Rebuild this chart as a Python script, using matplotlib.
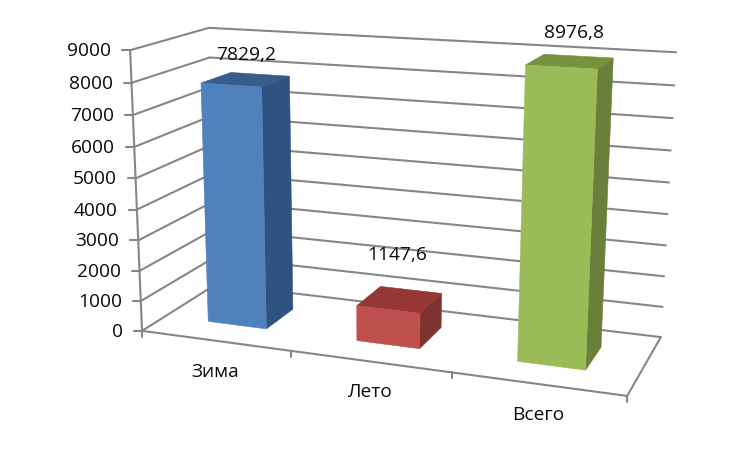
import numpy as np
import matplotlib
matplotlib.use("Agg")
import matplotlib.pyplot as plt
from matplotlib.patches import Polygon

# ---- data ----
categories = ["Зима", "Лето", "Всего"]
values = [7829.2, 1147.6, 8976.8]
value_labels = ["7829,2", "1147,6", "8976,8"]
value_ticks = [0, 1000, 2000, 3000, 4000, 5000, 6000, 7000, 8000, 9000]

# ---- styles ----
front_colors = ["#4F81BD", "#C0504D", "#9BBB59"]
top_colors = ["#385D8A", "#953735", "#76923C"]
side_colors = ["#2F5380", "#7F3331", "#6A7F3A"]
label_nudge = [(0, -25), (-3, -44), (4, -28)]
GRID = "#868686"
FONT = "Open Sans"
FS = 13.8
VMAX = value_ticks[-1]
BAR = (0.3, 0.7)   # bar extent inside a category slot (gap width 150 %)
DEPTH = (0.3, 0.7) # bar extent along the depth axis

# ---- perspective camera: category axis X, depth D, value Z -> pixels ----
cal = [((0, 0, 0), (142.3, 331)), ((0, 0, 1), (130, 50)), ((0, 1, 1), (209, 28)),
       ((0, 1, 0), (216, 284)), ((3, 1, 1), (676, 52.3)), ((3, 1, 0), (661, 337)),
       ((3, 0, 0), (627, 396))]
A, b = [], []
for (X, D, z), (u, v) in cal:
    A.append([X, D, z, 1, 0, 0, 0, 0, -u * X, -u * D, -u * z]); b.append(u)
    A.append([0, 0, 0, 0, X, D, z, 1, -v * X, -v * D, -v * z]); b.append(v)
P = np.append(np.linalg.lstsq(np.array(A, float), np.array(b, float), rcond=None)[0], 1).reshape(3, 4)

def proj(X, D, Z):
    h = P @ np.array([X, D, Z / VMAX, 1.0])
    return h[:2] / h[2]

fig = plt.figure(figsize=(7.5, 4.53), dpi=100)
ax = fig.add_axes([0, 0, 1, 1])
ax.set_xlim(0, 750)
ax.set_ylim(453, 0)
ax.axis("off")

def line(p, q, lw=1.5):
    ax.plot([p[0], q[0]], [p[1], q[1]], color=GRID, lw=lw, zorder=1, solid_capstyle="round")

n = len(categories)
# walls
for t in value_ticks:
    a, m, c = proj(0, 0, t), proj(0, 1, t), proj(n, 1, t)
    line(a, m)
    line(m, c)
    line((a[0] - 8, a[1]), a)
# axes and floor
line(proj(0, 0, 0), proj(0, 0, VMAX))
line(proj(0, 0, 0), proj(n, 0, 0))
line(proj(n, 0, 0), proj(n, 1, 0))
for i in range(n + 1):
    p = proj(i, 0, 0)
    line(p, (p[0], p[1] + 6))

# tick labels
for t in value_ticks:
    a = proj(0, 0, t)
    ax.text(a[0] - 19, a[1] + 1, str(t), ha="right", va="center", fontsize=FS,
            family=FONT, color="#0a0a0a", zorder=6)

# bars
x0, x1 = BAR
d0, d1 = DEPTH
for i, v in enumerate(values):
    L, R = i + x0, i + x1
    front = [proj(L, d0, 0), proj(R, d0, 0), proj(R, d0, v), proj(L, d0, v)]
    side = [proj(R, d0, 0), proj(R, d1, 0), proj(R, d1, v), proj(R, d0, v)]
    top = [proj(L, d0, v), proj(R, d0, v), proj(R, d1, v), proj(L, d1, v)]
    for pts, col in ((side, side_colors[i]), (top, top_colors[i]), (front, front_colors[i])):
        ax.add_patch(Polygon(pts, closed=True, facecolor=col, edgecolor=col, lw=0.4, zorder=3))
    # value label above the bar
    c = proj(i + 0.5, 0.5, v)
    ax.text(c[0] + label_nudge[i][0], c[1] + label_nudge[i][1],
            value_labels[i], ha="center", va="center",
            fontsize=FS, family=FONT, color="#0a0a0a", zorder=6)
    # category label under the slot
    g = proj(i + 0.5, 0, 0)
    ax.text(g[0], g[1] + 31, categories[i], ha="center", va="center",
            fontsize=FS, family=FONT, color="#0a0a0a", zorder=6)

fig.savefig("out.png", dpi=100)
